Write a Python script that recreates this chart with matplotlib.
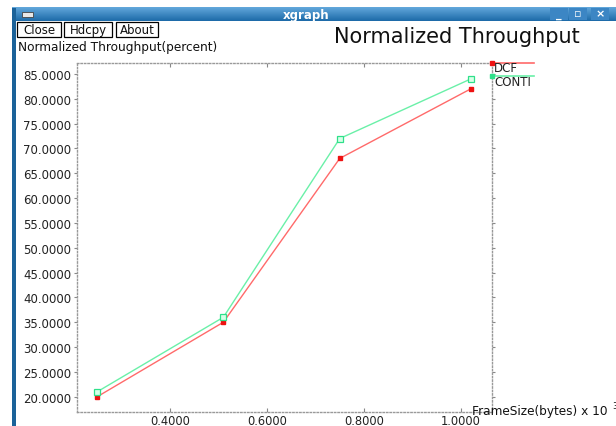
"""
xgraph style throughput plot (DCF vs CONTI).
"""
import numpy as np
import matplotlib
matplotlib.use("Agg")
import matplotlib.pyplot as plt
from matplotlib.patches import Rectangle
from matplotlib.lines import Line2D

# data (frame size in bytes x 10^3, normalized throughput in percent)
frame_size = [0.25, 0.51, 0.75, 1.02]
dcf = [20, 35, 68, 82]
conti = [21, 36, 72, 84]
x_ticks = [0.4, 0.6, 0.8, 1.0]
y_ticks = [20, 25, 30, 35, 40, 45, 50, 55, 60, 65, 70, 75, 80, 85]
series_names = ["DCF", "CONTI"]

W, H = 616, 427
RED = "#ff6a6a"
GREEN = "#6af0a8"
FONT = "DejaVu Sans"


def fx(px):
    return px / W


def fy(py):
    return 1 - py / H


fig = plt.figure(figsize=(W / 100, H / 100), dpi=100)
fig.patch.set_facecolor("white")

# window decorations: title bar with gradient + left border
bar = fig.add_axes([fx(12), fy(22), fx(616) - fx(12), (22 - 8) / H])
grad = np.linspace(0, 1, 50).reshape(-1, 1)
bar_cmap = matplotlib.colors.LinearSegmentedColormap.from_list("bar", ["#62a8dc", "#1d6aa8"])
bar.imshow(grad, aspect="auto", cmap=bar_cmap, extent=[0, 1, 0, 1], origin="upper")
bar.set_xlim(0, 1)
bar.set_ylim(0, 1)
bar.axis("off")
bar.text(0.487, 0.5, "xgraph", color="white", fontsize=8.5, fontweight="bold",
         ha="center", va="center", family=FONT)
fig.add_artist(Rectangle((fx(22), fy(17.5)), 11 / W, 5 / H, facecolor="#e8e8e8",
                         edgecolor="#444444", lw=0.6, transform=fig.transFigure))
for cx, glyph in zip([559, 578, 600], ["_", "\u25ab", "\u00d7"]):
    fig.add_artist(Rectangle((fx(cx - 9), fy(21)), 18 / W, 12 / H, facecolor="#3c86c4",
                             edgecolor="none", transform=fig.transFigure))
    fig.text(fx(cx), fy(14.5), glyph, color="white", fontsize=8, fontweight="bold",
             ha="center", va="center", family=FONT)
fig.add_artist(Rectangle((fx(12), 0), 4 / W, fy(9), facecolor="#1b6299",
                         edgecolor="none", transform=fig.transFigure))

# buttons
for x0, x1, name in [(17, 61, "Close"), (64, 112, "Hdcpy"), (116, 158, "About")]:
    fig.add_artist(Rectangle((fx(x0), fy(38)), (x1 - x0) / W, 15 / H, facecolor="white",
                             edgecolor="black", lw=0.9, transform=fig.transFigure))
    fig.text(fx((x0 + x1) / 2), fy(30.5), name, fontsize=8.5, ha="center", va="center",
             family=FONT, color="#111111")

fig.text(fx(334), fy(37), "Normalized Throughput", fontsize=15, ha="left", va="center",
         family=FONT, color="#111111")
fig.text(fx(18), fy(48), "Normalized Throughput(percent)", fontsize=8.7, ha="left",
         va="center", family=FONT, color="#111111")
fig.text(fx(472), fy(412), "FrameSize(bytes) x 10", fontsize=8.7, ha="left", va="center",
         family=FONT, color="#111111")
fig.text(fx(612), fy(407), "3", fontsize=6, ha="left", va="center", family=FONT,
         color="#111111")

# plot area
ax = fig.add_axes([fx(77), fy(413), (492 - 77) / W, (413 - 64) / H])
ax.plot(frame_size, dcf, color=RED, lw=1, marker="s", ms=2.5,
        mfc="#ee1111", mec="#ee1111", label=series_names[0])
ax.plot(frame_size, conti, color=GREEN, lw=1, marker="s", ms=4,
        mfc="#d8ffe8", mec="#2ee08a", mew=0.9, label=series_names[1])
ax.set_xlim(0.2082, 1.064)
ax.set_ylim(16.92, 87.22)

ax.set_xticks(x_ticks)
ax.set_xticklabels([f"{v:.4f}" for v in x_ticks])
ax.set_yticks(y_ticks)
ax.set_yticklabels([f"{v:.4f}" for v in y_ticks])
ax.tick_params(axis="x", direction="in", top=True, length=3, width=0.8, color="#888888",
               pad=1.5, labelsize=8.3, labelcolor="#222222")
ax.tick_params(axis="y", direction="out", length=2.5, width=0.8, color="#888888",
               pad=1.5, labelsize=8.5, labelcolor="#222222")
ax.tick_params(axis="y", which="both", right=True)
for lab in ax.get_xticklabels() + ax.get_yticklabels():
    lab.set_family(FONT)
for sp in ax.spines.values():
    sp.set_linestyle((0, (1, 1.5)))
    sp.set_color("#999999")
    sp.set_linewidth(1)

# xgraph legend: key line above the name
for i, (name, col, mc) in enumerate(zip(series_names, [RED, GREEN], ["#ee1111", "#2ee08a"])):
    yl = 64 + 13.3 * i
    fig.add_artist(Line2D([fx(492), fx(534)], [fy(yl), fy(yl)], color=col, lw=1.2,
                          transform=fig.transFigure))
    fig.add_artist(Line2D([fx(492)], [fy(yl)], marker="s", ms=3, color=mc,
                          transform=fig.transFigure))
    fig.text(fx(494), fy(yl + 5), name, fontsize=8.5, ha="left", va="center",
             family=FONT, color="#222222")

fig.savefig("out.png", dpi=100)
